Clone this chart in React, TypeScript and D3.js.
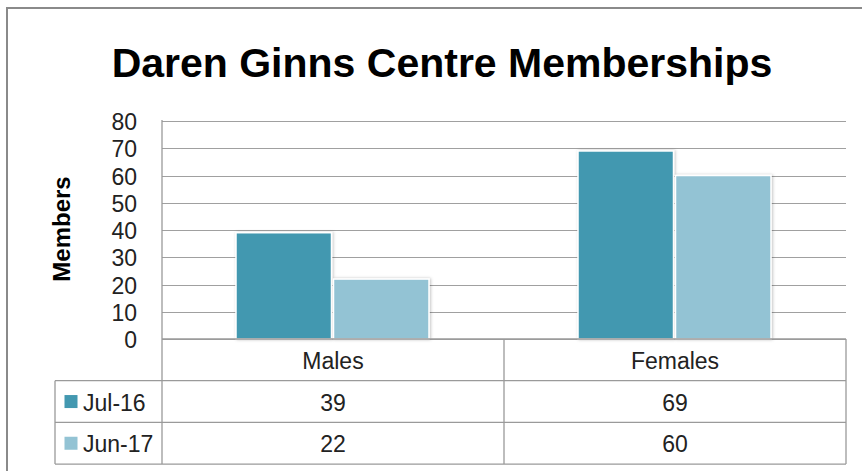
import React from 'react'
import * as d3 from 'd3'

const categories = ['Males', 'Females']
const series = ['Jul-16', 'Jun-17']
const jul16 = [39, 69]
const jun17 = [22, 60]
const yTicks = [0, 10, 20, 30, 40, 50, 60, 70, 80]
const colors = ['#4398b0', '#93c3d4']

const W = 862
const H = 471
const plot = {left: 162, right: 846, top: 121, bottom: 339}
const rowH = 41.7
const tableLeft = 55
const font = '"Liberation Sans", Arial, sans-serif'

export default function App() {
    const values = [jul16, jun17]

    const y = d3.scaleLinear().domain([0, 80]).range([plot.bottom, plot.top])
    const x0 = d3.scaleBand().domain(categories).range([plot.left, plot.right])
    // bars sit in the middle of each category band, with a gap at both sides
    const x1 = d3.scaleBand().domain(series).range([73, 268])

    const rows = [plot.bottom, plot.bottom + rowH, plot.bottom + rowH * 2, plot.bottom + rowH * 3]

    return (
        <svg width={W} height={H} style={{position: 'absolute', left: 0, top: 0, background: '#fff'}}>
            <defs>
                <filter id="shadow" x="-10%" y="-10%" width="130%" height="130%">
                    <feDropShadow dx="1" dy="0" stdDeviation="1.6" floodColor="#000" floodOpacity="0.25" />
                </filter>
            </defs>
            {/* outer frame, right/bottom fall off the picture */}
            <rect x={7} y={8} width={900} height={500} fill="#fff" stroke="#8a8a8a" strokeWidth={2} />

            <text x={442} y={77} textAnchor="middle" fontFamily={font} fontWeight="bold" fontSize={41} fill="#000">
                Daren Ginns Centre Memberships
            </text>

            <text transform={`translate(70,229) rotate(-90)`} textAnchor="middle" fontFamily={font}
                fontWeight="bold" fontSize={24} fill="#000">Members</text>

            {/* gridlines */}
            {yTicks.map(t => (
                <line key={t} x1={plot.left} x2={plot.right} y1={Math.round(y(t)) + 0.5} y2={Math.round(y(t)) + 0.5}
                    stroke="#a0a0a0" strokeWidth={1} />
            ))}
            {yTicks.map(t => (
                <text key={'l' + t} x={137} y={y(t) + 1} textAnchor="end" dominantBaseline="central"
                    fontFamily={font} fontSize={23} fill="#222">{t}</text>
            ))}

            {/* bars */}
            {categories.map((c, ci) => (
                <g key={c} transform={`translate(${x0(c)},0)`}>
                    {series.map((s, si) => (
                        <rect key={s} x={x1(s)! + 1} y={y(values[si][ci])} width={x1.bandwidth() - 2}
                            height={y(0) - y(values[si][ci])} fill={colors[si]} stroke="#fff" strokeWidth={1.5}
                            filter="url(#shadow)" />
                    ))}
                </g>
            ))}

            {/* data table */}
            <g stroke="#9a9a9a" strokeWidth={1.3} fill="none">
                <line x1={plot.left} x2={plot.right} y1={rows[0]} y2={rows[0]} />
                {rows.slice(1).map((r, i) => (
                    <line key={i} x1={tableLeft} x2={plot.right} y1={r} y2={r} />
                ))}
                <line x1={plot.left} x2={plot.left} y1={plot.top - 1} y2={rows[3]} />
                <line x1={tableLeft} x2={tableLeft} y1={rows[1]} y2={rows[3]} />
                <line x1={x0('Females')} x2={x0('Females')} y1={rows[0]} y2={rows[3]} />
                <line x1={plot.right} x2={plot.right} y1={rows[0]} y2={rows[3]} />
            </g>
            {categories.map(c => (
                <text key={c} x={x0(c)! + x0.bandwidth() / 2} y={(rows[0] + rows[1]) / 2 + 1} textAnchor="middle"
                    dominantBaseline="central" fontFamily={font} fontSize={23} fill="#222">{c}</text>
            ))}
            {series.map((s, si) => (
                <g key={s}>
                    <rect x={64.5} y={(rows[si + 1] + rows[si + 2]) / 2 - 6.5} width={13} height={13} fill={colors[si]} />
                    <text x={83} y={(rows[si + 1] + rows[si + 2]) / 2 + 1} dominantBaseline="central"
                        fontFamily={font} fontSize={23} fill="#222">{s}</text>
                    {categories.map((c, ci) => (
                        <text key={c} x={x0(c)! + x0.bandwidth() / 2} y={(rows[si + 1] + rows[si + 2]) / 2 + 1}
                            textAnchor="middle" dominantBaseline="central" fontFamily={font} fontSize={23}
                            fill="#222">{values[si][ci]}</text>
                    ))}
                </g>
            ))}
        </svg>
    )
}
